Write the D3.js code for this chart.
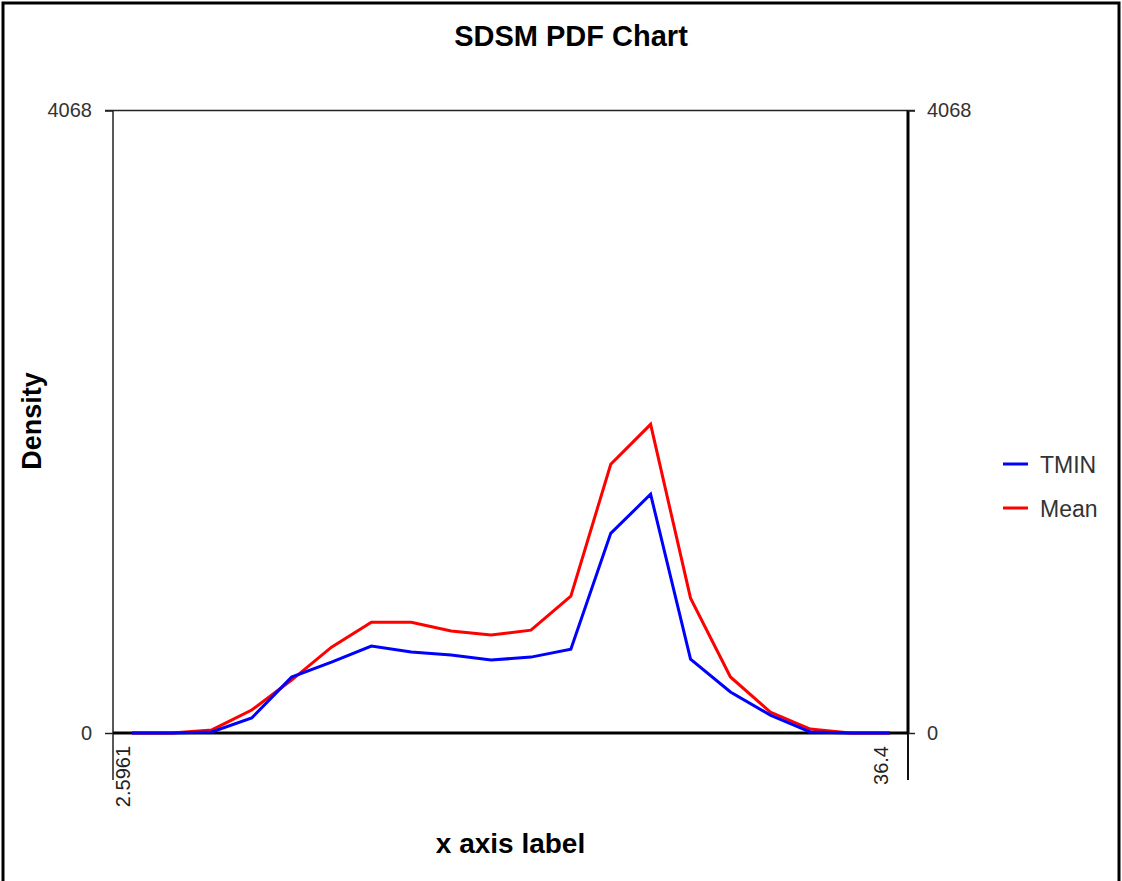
<!DOCTYPE html>
<html lang="en">
<head>
<meta charset="UTF-8">
<title>SDSM PDF Chart</title>
<script src="https://d3js.org/d3.v7.min.js"></script>
<style>
  body { margin: 0; background: #fff; }
  text { font-family: "Liberation Sans", Arial, sans-serif; }
</style>
</head>
<body>
<div id="container"></div>
<script>
// bin centres (x) and densities
const xVals = [2.5961, 4.3753, 6.1545, 7.9336, 9.7128, 11.492, 13.271, 15.050, 16.830, 18.609,
               20.388, 22.167, 23.946, 25.725, 27.505, 29.284, 31.063, 32.842, 34.621, 36.4];
const tmin = [0, 0, 7, 98, 365, 463, 568, 529, 509, 477, 496, 548, 1305, 1560, 483, 268, 117, 7, 0, 0];
const mean = [0, 0, 20, 150, 346, 561, 724, 724, 666, 640, 672, 894, 1756, 2017, 881, 366, 137, 26, 0, 0];
const seriesNames = ["TMIN", "Mean"];
const seriesColors = ["#0000ff", "#ff0000"];
const yTicks = [0, 4068];
const xTicks = [2.5961, 36.4];

const W = 1122, H = 881;
const frame = {left: 113, right: 908, top: 110.5, bottom: 733};

const svg = d3.select("#container").append("svg")
    .attr("width", W).attr("height", H);

// outer border
svg.append("rect")
    .attr("x", 3).attr("y", 3)
    .attr("width", W - 6).attr("height", H + 10)
    .attr("fill", "#fff").attr("stroke", "#000").attr("stroke-width", 3);

const x = d3.scaleLinear().domain([xVals[0], xVals[xVals.length - 1]]).range([132, 890]);
const y = d3.scaleLinear().domain([0, 4068]).range([frame.bottom, frame.top]);

// frame lines
svg.append("line")  // top
    .attr("x1", frame.left - 8).attr("x2", frame.right + 7)
    .attr("y1", frame.top).attr("y2", frame.top)
    .attr("stroke", "#222").attr("stroke-width", 1.5);
svg.append("line")  // left
    .attr("x1", frame.left).attr("x2", frame.left)
    .attr("y1", frame.top).attr("y2", 780)
    .attr("stroke", "#222").attr("stroke-width", 1.5);
svg.append("line")  // right, heavy part
    .attr("x1", frame.right).attr("x2", frame.right)
    .attr("y1", frame.top).attr("y2", frame.bottom)
    .attr("stroke", "#000").attr("stroke-width", 3);
svg.append("line")  // right, below zero
    .attr("x1", frame.right).attr("x2", frame.right)
    .attr("y1", frame.bottom).attr("y2", 780)
    .attr("stroke", "#111").attr("stroke-width", 2);

// y axes
const yl = svg.append("g").attr("transform", `translate(${frame.left},0)`)
    .call(d3.axisLeft(y).tickValues(yTicks).tickSize(8).tickSizeOuter(0).tickPadding(13).tickFormat(d => d));
const yr = svg.append("g").attr("transform", `translate(${frame.right},0)`)
    .call(d3.axisRight(y).tickValues(yTicks).tickSize(7).tickSizeOuter(0).tickPadding(12).tickFormat(d => d));
[yl, yr].forEach(g => {
  g.select(".domain").remove();
  g.selectAll(".tick line").attr("stroke", "#222").attr("stroke-width", 1.5);
  g.selectAll(".tick text").attr("font-size", 20).attr("fill", "#333")
      .style("font-family", '"Liberation Sans", Arial, sans-serif');
});

// zero line
svg.append("line")
    .attr("x1", frame.left).attr("x2", frame.right)
    .attr("y1", y(0)).attr("y2", y(0))
    .attr("stroke", "#000").attr("stroke-width", 3);

// x axis (rotated labels)
const xa = svg.append("g").attr("transform", `translate(0,${frame.bottom})`)
    .call(d3.axisBottom(x).tickValues(xTicks).tickSize(0).tickFormat(d => d));
xa.select(".domain").remove();
xa.selectAll(".tick text")
    .attr("x", 0).attr("y", 0).attr("dy", "0.35em")
    .attr("text-anchor", "end")
    .attr("transform", "translate(-10,13) rotate(-90)")
    .attr("font-size", 20).attr("fill", "#222")
    .style("font-family", '"Liberation Sans", Arial, sans-serif');

// series, red under blue
const line = d3.line().x((d, i) => x(xVals[i])).y(d => y(d));
[[mean, seriesColors[1]], [tmin, seriesColors[0]]].forEach(([vals, col]) => {
  svg.append("path")
      .datum(vals)
      .attr("fill", "none")
      .attr("stroke", col)
      .attr("stroke-width", 3)
      .attr("d", line);
});

// titles
svg.append("text")
    .attr("x", 571).attr("y", 46)
    .attr("text-anchor", "middle")
    .attr("font-size", 29).attr("font-weight", "bold")
    .text("SDSM PDF Chart");
svg.append("text")
    .attr("x", (frame.left + frame.right) / 2).attr("y", 853)
    .attr("text-anchor", "middle")
    .attr("font-size", 28).attr("font-weight", "bold")
    .text("x axis label");
svg.append("text")
    .attr("transform", "translate(41,421) rotate(-90)")
    .attr("text-anchor", "middle")
    .attr("font-size", 27).attr("font-weight", "bold")
    .text("Density");

// legend
const leg = svg.append("g");
seriesNames.forEach((name, i) => {
  const yy = 464 + i * 44;
  leg.append("line")
      .attr("x1", 1003).attr("x2", 1028)
      .attr("y1", yy).attr("y2", yy)
      .attr("stroke", seriesColors[i]).attr("stroke-width", 3);
  leg.append("text")
      .attr("x", 1040).attr("y", yy + 9)
      .attr("font-size", 23).attr("fill", "#333")
      .text(name);
});
</script>
</body>
</html>
